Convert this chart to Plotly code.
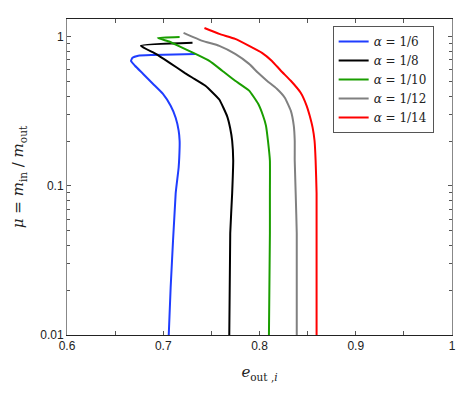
import plotly.graph_objects as go

# e_out,i values (x) and mu = m_in/m_out values (y), one pair of lists per alpha
labels = ["α = 1/6", "α = 1/8", "α = 1/10", "α = 1/12", "α = 1/14"]
colors = ["#1f3dff", "#000000", "#1a9e00", "#808080", "#ff0000"]

e_16 = [0.7057, 0.7077, 0.7129, 0.7160, 0.7170, 0.7170, 0.7160, 0.7129, 0.7077,
        0.6995, 0.6892, 0.6789, 0.6706, 0.6665, 0.6680, 0.6740, 0.6892, 0.7335]
mu_16 = [0.01, 0.0209, 0.0891, 0.133, 0.181, 0.201, 0.235, 0.287, 0.345,
         0.416, 0.485, 0.566, 0.640, 0.690, 0.724, 0.748, 0.756, 0.769]

e_18 = [0.7686, 0.7696, 0.7716, 0.7727, 0.7716, 0.7696, 0.7665, 0.7582, 0.7438,
        0.7304, 0.7222, 0.7067, 0.6923, 0.6768, 0.7304]
mu_18 = [0.01, 0.0481, 0.0891, 0.148, 0.201, 0.243, 0.292, 0.380, 0.470,
         0.532, 0.574, 0.670, 0.769, 0.871, 0.912]

e_110 = [0.8098, 0.8108, 0.8108, 0.8108, 0.8088, 0.8067, 0.8036, 0.7985, 0.7892,
         0.7747, 0.7613, 0.7479, 0.7335, 0.7201, 0.7067, 0.6943, 0.7170]
mu_110 = [0.01, 0.0481, 0.0891, 0.148, 0.201, 0.254, 0.297, 0.357, 0.436,
          0.508, 0.593, 0.690, 0.769, 0.843, 0.927, 0.984, 1.0]

e_112 = [0.8387, 0.8387, 0.8376, 0.8366, 0.8366, 0.8356, 0.8325, 0.8263, 0.8180,
         0.8077, 0.7985, 0.7892, 0.7747, 0.7582, 0.7407, 0.7211]
mu_112 = [0.01, 0.0481, 0.0891, 0.148, 0.201, 0.254, 0.320, 0.391, 0.449,
          0.508, 0.574, 0.659, 0.769, 0.871, 0.940, 1.064]

e_114 = [0.8593, 0.8593, 0.8583, 0.8572, 0.8552, 0.8521, 0.8490, 0.8428, 0.8325,
         0.8222, 0.8129, 0.8026, 0.7892, 0.7747, 0.7582, 0.7428]
mu_114 = [0.01, 0.0891, 0.148, 0.201, 0.246, 0.297, 0.345, 0.422, 0.508,
          0.593, 0.690, 0.782, 0.871, 0.970, 1.047, 1.148]

xs = [e_16, e_18, e_110, e_112, e_114]
ys = [mu_16, mu_18, mu_110, mu_112, mu_114]

x_ticks = [0.6, 0.7, 0.8, 0.9, 1.0]
x_ticktext = ["0.6", "0.7", "0.8", "0.9", "1"]
y_ticks = [0.01, 0.1, 1]
y_ticktext = ["0.01", "0.1", "1"]
y_minor = [k * 10 ** p for p in (-2, -1, 0) for k in range(2, 10)]
x_minor = [0.65, 0.75, 0.85, 0.95]

fig = go.Figure()
for x, y, lab, col in zip(xs, ys, labels, colors):
    fig.add_trace(go.Scatter(
        x=x, y=y, mode="lines", name=lab.replace("α", "<i>α</i>"),
        line=dict(color=col, width=2, shape="spline", smoothing=0.4),
    ))

# page body has an 8px margin, so the figure is a bit smaller than the window
fig.update_layout(
    width=466, height=385,
    margin=dict(l=55, r=22, t=10, b=58),
    plot_bgcolor="white", paper_bgcolor="white",
    font=dict(family="Liberation Sans, Arial, sans-serif", size=12, color="#222"),
    showlegend=True,
    legend=dict(
        x=0.69, y=0.978, xanchor="left", yanchor="top",
        bordercolor="#555", borderwidth=1, bgcolor="white",
        font=dict(family="DejaVu Serif, serif", size=12, color="#222"),
        tracegroupgap=0, itemwidth=30,
    ),
)

fig.update_xaxes(
    range=[0.6, 1.0], tickvals=x_ticks, ticktext=x_ticktext,
    ticks="inside", ticklen=4, tickcolor="#555", mirror="allticks",
    showline=True, linecolor="#222", linewidth=1, showgrid=False, zeroline=False,
    minor=dict(tickvals=x_minor, ticks="inside", ticklen=4, tickcolor="#555"),
    title=dict(text="<i>e</i><sub>out ,<i>i</i></sub>",
               font=dict(family="DejaVu Serif, serif", size=15, color="#222"),
               standoff=14),
)
fig.update_yaxes(
    type="log", range=[-2, 0.12], tickvals=y_ticks, ticktext=y_ticktext,
    ticks="inside", ticklen=4, tickcolor="#555", mirror="allticks",
    showline=True, linecolor="#888", linewidth=1, showgrid=False, zeroline=False,
    minor=dict(tickvals=y_minor, ticks="inside", ticklen=3, tickcolor="#555"),
    title=dict(text="<i>μ</i> = <i>m</i><sub>in</sub> / <i>m</i><sub>out</sub>",
               font=dict(family="DejaVu Serif, serif", size=15, color="#222"),
               standoff=12),
)

fig.write_html("out.html")
